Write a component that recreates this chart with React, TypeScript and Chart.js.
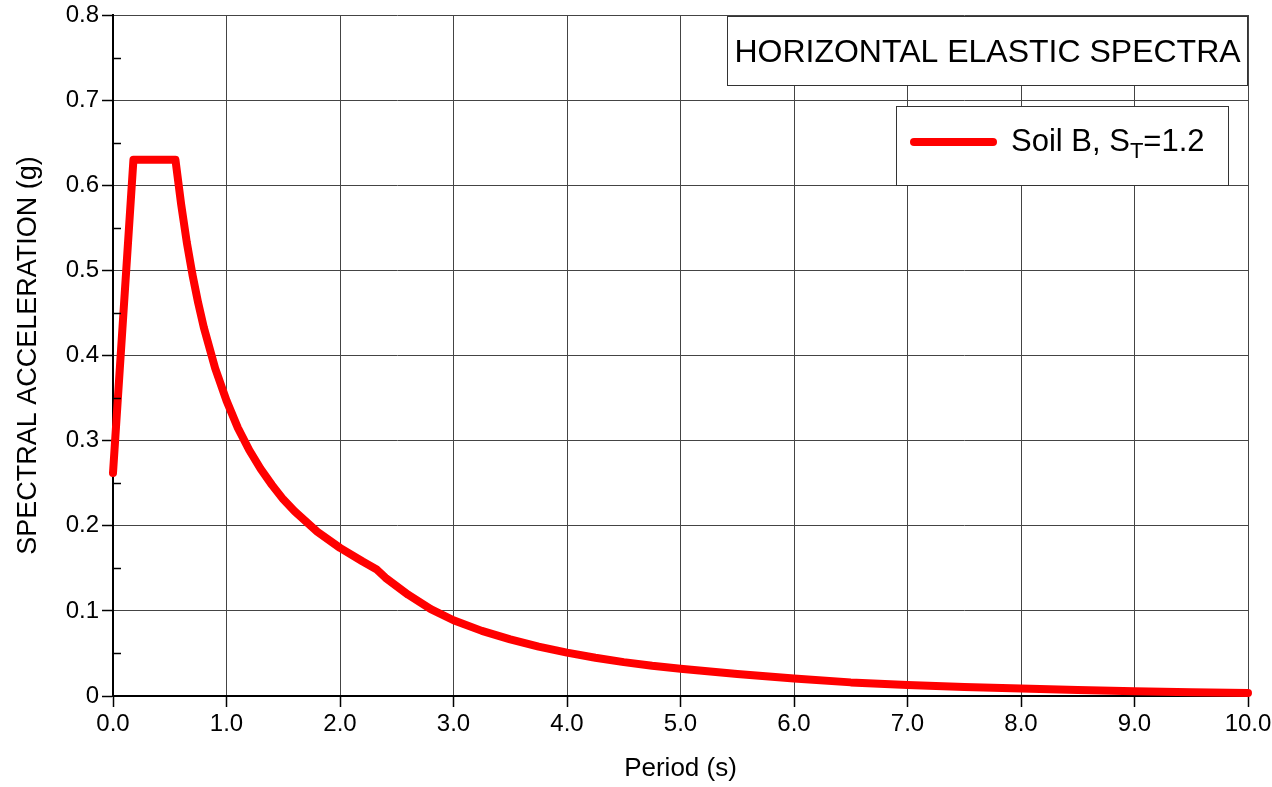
import React, { useEffect, useRef } from "react";
import { Chart, registerables } from "chart.js";

Chart.register(...registerables);

const periods: number[] = [
  0, 0.18, 0.55, 0.6, 0.65, 0.7, 0.75, 0.8, 0.9, 1.0, 1.1, 1.2, 1.3, 1.4, 1.5,
  1.6, 1.8, 2.0, 2.2, 2.32, 2.4, 2.6, 2.8, 3.0, 3.25, 3.5, 3.75, 4.0, 4.25, 4.5,
  4.75, 5.0, 5.5, 6.0, 6.5, 7.0, 7.5, 8.0, 8.5, 9.0, 9.5, 10.0,
];
const spectralAcc: number[] = [
  0.262, 0.63, 0.63, 0.578, 0.533, 0.495, 0.462, 0.433, 0.385, 0.347, 0.315,
  0.289, 0.267, 0.248, 0.231, 0.217, 0.193, 0.174, 0.158, 0.149, 0.139, 0.119,
  0.102, 0.089, 0.0765, 0.0665, 0.058, 0.051, 0.045, 0.0398, 0.0355, 0.032,
  0.0258, 0.0205, 0.016, 0.013, 0.0105, 0.0087, 0.007, 0.0056, 0.0045, 0.0036,
];
const yMinorTicks: number[] = [0.05, 0.15, 0.25, 0.35, 0.45, 0.55, 0.65, 0.75];

const titleText = "HORIZONTAL ELASTIC SPECTRA";
const legendMain = "Soil B, S";
const legendSub = "T";
const legendTail = "=1.2";
const xTitle = "Period (s)";
const yTitle = "SPECTRAL ACCELERATION (g)";

const FONT = "'Liberation Sans', Arial, Helvetica, sans-serif";
const RED = "#ff0000";

const decorPlugin = {
  id: "decor",
  afterDraw(chart: any) {
    const ctx = chart.ctx as CanvasRenderingContext2D;
    const area = chart.chartArea;
    const y = chart.scales.y;
    ctx.save();
    ctx.strokeStyle = "#000";
    ctx.lineWidth = 1.5;
    for (const v of yMinorTicks) {
      const py = Math.round(y.getPixelForValue(v)) + 0.5;
      ctx.beginPath();
      ctx.moveTo(area.left, py);
      ctx.lineTo(area.left + 8, py);
      ctx.stroke();
    }
    // title box
    const tx1 = 727, ty1 = area.top + 1, tx2 = area.right, ty2 = 85;
    ctx.fillStyle = "#fff";
    ctx.fillRect(tx1, ty1, tx2 - tx1, ty2 - ty1);
    ctx.strokeStyle = "#333";
    ctx.lineWidth = 1;
    ctx.strokeRect(tx1 + 0.5, ty1 + 0.5, tx2 - tx1 - 1, ty2 - ty1);
    ctx.fillStyle = "#000";
    ctx.font = `32px ${FONT}`;
    ctx.textAlign = "center";
    ctx.textBaseline = "alphabetic";
    ctx.fillText(titleText, (tx1 + tx2) / 2, 62);
    // legend box
    const lx1 = 896, ly1 = 106, lx2 = 1228, ly2 = 185;
    ctx.fillStyle = "#fff";
    ctx.fillRect(lx1, ly1, lx2 - lx1, ly2 - ly1);
    ctx.strokeStyle = "#333";
    ctx.strokeRect(lx1 + 0.5, ly1 + 0.5, lx2 - lx1, ly2 - ly1);
    ctx.strokeStyle = RED;
    ctx.lineWidth = 8;
    ctx.lineCap = "round";
    ctx.beginPath();
    ctx.moveTo(914, 142);
    ctx.lineTo(993, 142);
    ctx.stroke();
    ctx.fillStyle = "#000";
    ctx.textAlign = "left";
    ctx.font = `31px ${FONT}`;
    let x = 1011;
    ctx.fillText(legendMain, x, 151);
    x += ctx.measureText(legendMain).width;
    ctx.font = `22px ${FONT}`;
    ctx.fillText(legendSub, x, 158);
    x += ctx.measureText(legendSub).width;
    ctx.font = `31px ${FONT}`;
    ctx.fillText(legendTail, x, 151);
    ctx.restore();
  },
};

export default function App() {
  const ref = useRef<HTMLCanvasElement | null>(null);
  useEffect(() => {
    document.body.style.margin = "0";
    const canvas = ref.current!;
    const chart = new Chart(canvas, {
      type: "line",
      data: {
        datasets: [
          {
            label: "Soil B, ST=1.2",
            data: periods.map((t, i) => ({ x: t, y: spectralAcc[i] })),
            borderColor: RED,
            backgroundColor: RED,
            borderWidth: 8,
            pointRadius: 0,
            tension: 0,
            borderCapStyle: "round",
            borderJoinStyle: "round",
            clip: false,
          } as any,
        ],
      },
      options: {
        responsive: false,
        animation: false,
        layout: { padding: { top: 15, right: 24, left: 0, bottom: 0 } },
        plugins: { legend: { display: false }, tooltip: { enabled: false }, title: { display: false } },
        scales: {
          x: {
            type: "linear",
            min: 0,
            max: 10,
            afterFit(scale: any) {
              scale.height = 91;
              scale.paddingLeft = 0;
              scale.paddingRight = 0;
            },
            ticks: {
              stepSize: 1,
              color: "#000",
              font: { family: FONT, size: 24 },
              padding: 3,
              maxRotation: 0,
              callback: (v: any) => Number(v).toFixed(1),
            },
            grid: { color: "#444", lineWidth: 1, tickColor: "#000", tickLength: 11, tickWidth: 1.5 },
            border: { color: "#000", width: 2 },
            title: {
              display: true,
              text: xTitle,
              color: "#000",
              font: { family: FONT, size: 26 },
              padding: { top: 0, bottom: 3 },
            },
          },
          y: {
            type: "linear",
            min: 0,
            max: 0.8,
            afterFit(scale: any) {
              scale.width = 113;
              scale.paddingTop = 0;
              scale.paddingBottom = 0;
            },
            ticks: {
              stepSize: 0.1,
              color: "#000",
              font: { family: FONT, size: 24 },
              padding: 3,
              callback: (v: any) => (Number(v) === 0 ? "0" : Number(v).toFixed(1)),
            },
            grid: { color: "#444", lineWidth: 1, tickColor: "#000", tickLength: 11, tickWidth: 1.5 },
            border: { color: "#000", width: 2 },
            title: {
              display: true,
              text: yTitle,
              color: "#000",
              font: { family: FONT, size: 27 },
              padding: { top: 12, bottom: 0 },
            },
          },
        },
      },
      plugins: [decorPlugin],
    });
    return () => chart.destroy();
  }, []);
  return (
    <div style={{ width: 1272, height: 787, background: "#fff" }}>
      <canvas ref={ref} width={1272} height={787} style={{ display: "block" }} />
    </div>
  );
}
